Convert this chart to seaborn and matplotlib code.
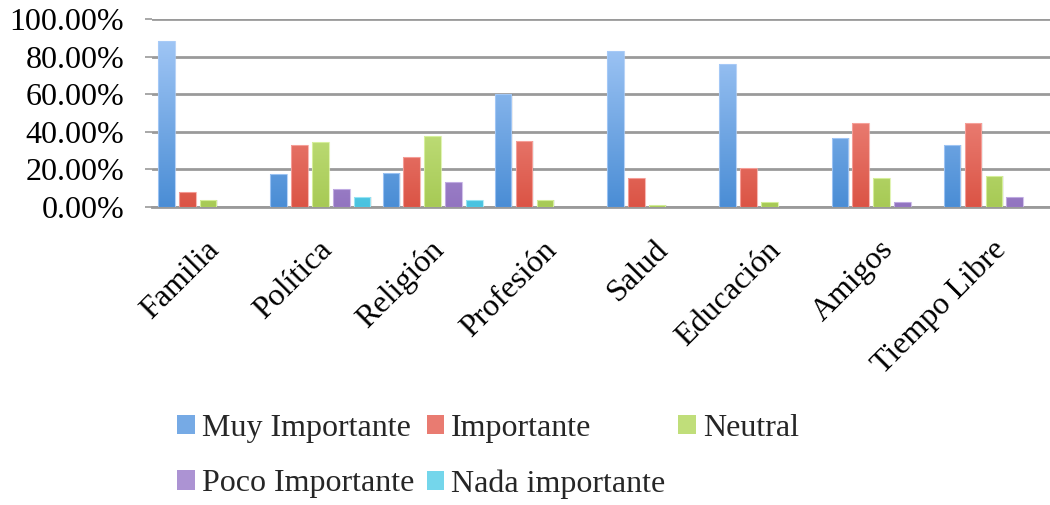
import numpy as np
import pandas as pd
import matplotlib
matplotlib.use("Agg")
import matplotlib.pyplot as plt
from matplotlib.colors import LinearSegmentedColormap
from matplotlib.patches import Patch
from matplotlib.ticker import FuncFormatter
from matplotlib.transforms import ScaledTranslation
import seaborn as sns

# Survey: importance given to each area of life (share of respondents)
aspectos = ["Familia", "Política", "Religión", "Profesión", "Salud",
            "Educación", "Amigos", "Tiempo Libre"]
niveles = ["Muy Importante", "Importante", "Neutral",
           "Poco Importante", "Nada importante"]

muy_importante = [0.883, 0.175, 0.183, 0.603, 0.828, 0.761, 0.365, 0.330]
importante = [0.078, 0.332, 0.264, 0.351, 0.153, 0.207, 0.447, 0.447]
neutral = [0.037, 0.346, 0.379, 0.037, 0.009, 0.025, 0.154, 0.167]
poco_importante = [0.0, 0.094, 0.133, 0.0, 0.0, 0.0, 0.025, 0.052]
nada_importante = [0.0, 0.053, 0.037, 0.0, 0.0, 0.0, 0.0, 0.0]

series = [muy_importante, importante, neutral, poco_importante, nada_importante]

df = pd.DataFrame({
    "Aspecto": np.repeat([aspectos], len(niveles), axis=0).ravel(),
    "Nivel": np.repeat(niveles, len(aspectos)),
    "Porcentaje": np.concatenate(series),
})

# (top, bottom) colours of the vertical gradient on each series
gradientes = [
    ("#abcdf9", "#4a8dd5"),
    ("#faaba6", "#db5445"),
    ("#def6a8", "#a7ca55"),
    ("#cbb8ea", "#9274c0"),
    ("#aaedf9", "#48c3e0"),
]
medios = [LinearSegmentedColormap.from_list("g", [b, t])(0.45) for t, b in gradientes]

sns.set_theme(style="white")
plt.rcParams["font.family"] = ["Liberation Serif", "DejaVu Serif"]

FS = 23
fig = plt.figure(figsize=(10.5, 5.05), dpi=100)
ax = fig.add_axes([152 / 1050, 1 - 207 / 505, (1050 - 152) / 1050, 188 / 505])

sns.barplot(data=df, x="Aspecto", y="Porcentaje", hue="Nivel",
            hue_order=niveles, order=aspectos, palette=medios,
            width=0.93, gap=0.2, legend=False, ax=ax, zorder=3)

# Replace flat fills with a light-to-dark vertical gradient
grad = np.linspace(0, 1, 256).reshape(-1, 1)
for cont, (top, bottom) in zip(ax.containers, gradientes):
    cmap = LinearSegmentedColormap.from_list("g", [bottom, top])
    for bar in cont:
        x, w, h = bar.get_x(), bar.get_width(), bar.get_height()
        if h <= 0:
            bar.set_visible(False)
            continue
        bar.set_facecolor("none")
        bar.set_edgecolor("none")
        # soft shadow to the right of the bar
        ax.add_patch(plt.Rectangle((x + w * 0.08, 0), w, h, facecolor="#000000",
                                   alpha=0.07, edgecolor="none", zorder=2))
        im = ax.imshow(grad, cmap=cmap, origin="lower", aspect="auto",
                       extent=[x, x + w, 0, 1.0], zorder=3, interpolation="bilinear")
        im.set_clip_path(bar)
        ax.add_patch(plt.Rectangle((x, 0), w, h, facecolor="none",
                                   edgecolor=top, linewidth=0.8, alpha=0.8, zorder=4))

ax.set_ylim(0, 1.0)
ax.set_xlim(-0.5, len(aspectos) - 0.5)

ax.set_yticks(np.arange(0, 1.01, 0.2))
ax.yaxis.set_major_formatter(FuncFormatter(lambda v, _: f"{v * 100:.2f}%"))
ax.yaxis.grid(True, color="#9a9a9a", linewidth=2.0, zorder=0)
ax.set_axisbelow(True)
for side in ["left", "right", "top"]:
    ax.spines[side].set_visible(False)
ax.spines["bottom"].set_color("#9a9a9a")
ax.spines["bottom"].set_linewidth(2.0)

ax.tick_params(axis="y", left=True, length=5, width=1.2, color="#9a9a9a",
               labelsize=FS, pad=15, labelcolor="black")
ax.tick_params(axis="x", bottom=False, labelsize=FS, pad=0, labelcolor="black")
ax.set_xlabel("")
ax.set_ylabel("")
shift = ScaledTranslation(-3 / 100, -20 / 100, fig.dpi_scale_trans)
for lab in ax.get_xticklabels():
    lab.set_rotation(45)
    lab.set_ha("right")
    lab.set_va("top")
    lab.set_rotation_mode("anchor")
    lab.set_transform(lab.get_transform() + shift)

# Legend: three columns, two rows
orden = [0, 3, 1, 4, 2]
handles = [Patch(facecolor=medios[i], edgecolor="none") for i in orden]
labels = [niveles[i] for i in orden]
fig.legend(handles, labels, ncol=3, loc="upper left",
           bbox_to_anchor=(177 / 1050, 1 - 414 / 505), frameon=False,
           fontsize=FS, handlelength=0.55, handleheight=0.55,
           handletextpad=0.22, columnspacing=0.4, labelspacing=0.82,
           borderpad=0, borderaxespad=0)

fig.savefig("out.png", dpi=100, facecolor="white")
